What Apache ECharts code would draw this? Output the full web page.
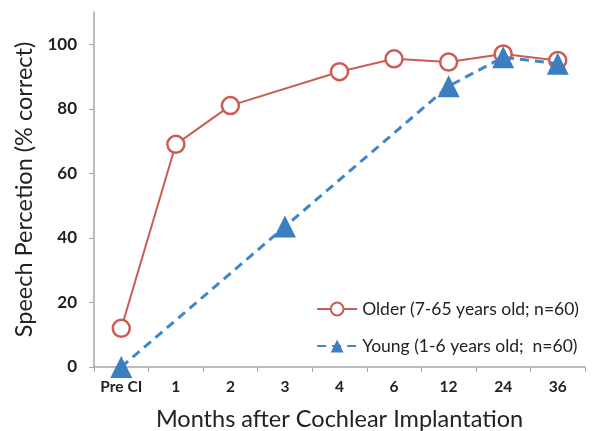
<!DOCTYPE html>
<html><head><meta charset="utf-8">
<script src="https://cdn.jsdelivr.net/npm/echarts@6/dist/echarts.min.js"></script>
<style>html,body{margin:0;padding:0;background:#fff}#c{width:594px;height:431px}</style>
</head><body><div id="c"></div>
<script>
const categories = ['Pre CI','1','2','3','4','6','12','24','36'];
const olderValues = [12, 69, 81, null, 91.5, 95.5, 94.5, 97, 95];
const youngValues = [0, null, null, 43.5, null, null, 87, 96, 94];
const yTicks = [0, 20, 40, 60, 80, 100];
const olderName = 'Older (7-65 years old; n=60)';
const youngName = 'Young (1-6 years old;  n=60)';

const chart = echarts.init(document.getElementById('c'));
const font = 'Lato, "Open Sans", sans-serif';
chart.setOption({
  animation: false,
  grid: {left: 94, right: 9, top: 12, bottom: 64, outerBoundsMode: 'none', containLabel: false},
  legend: {
    orient: 'vertical', right: 10, top: 295, itemGap: 19,
    itemWidth: 40, itemHeight: 16,
    textStyle: {fontFamily: font, fontSize: 17.5, color: '#222', padding: [0, 0, 0, 0]},
    data: [olderName, youngName]
  },
  xAxis: {
    type: 'category', data: categories, boundaryGap: true,
    axisLine: {lineStyle: {color: '#a6a6a6', width: 1.5}},
    axisTick: {show: true, length: 5, inside: false, interval: 0, lineStyle: {color: '#a6a6a6'}},
    axisLabel: {interval: 0, fontFamily: font, fontSize: 15.5, fontWeight: 'bold', color: '#222', margin: 12},
    name: 'Months after Cochlear Implantation', nameLocation: 'middle', nameGap: 40,
    nameTextStyle: {fontFamily: font, fontSize: 23.5, color: '#222'}
  },
  yAxis: {
    type: 'value', min: 0, max: 110,
    axisLine: {show: true, lineStyle: {color: '#a6a6a6', width: 1.5}},
    axisTick: {show: true, length: 5, customValues: yTicks, lineStyle: {color: '#a6a6a6'}},
    axisLabel: {customValues: yTicks, fontFamily: font, fontSize: 17, fontWeight: 'bold', color: '#222', margin: 17},
    splitLine: {show: false},
    name: 'Speech Percetion (% correct)', nameLocation: 'middle', nameGap: 56, nameRotate: 90,
    nameTextStyle: {fontFamily: font, fontSize: 23.5, color: '#222'}
  },
  series: [
    {
      name: olderName, type: 'line', data: olderValues, connectNulls: true,
      symbol: 'circle', symbolSize: 17, z: 2,
      lineStyle: {color: '#cc5b55', width: 2},
      itemStyle: {color: '#ffffff', borderColor: '#cc5b55', borderWidth: 2.5}
    },
    {
      name: youngName, type: 'line', data: youngValues, connectNulls: true,
      symbol: 'triangle', symbolSize: 22, z: 3,
      lineStyle: {color: '#3f87c9', width: 3, type: [9, 6]},
      itemStyle: {color: '#3b7fc0', borderColor: '#3b7fc0', borderWidth: 0}
    }
  ]
});
</script></body></html>
